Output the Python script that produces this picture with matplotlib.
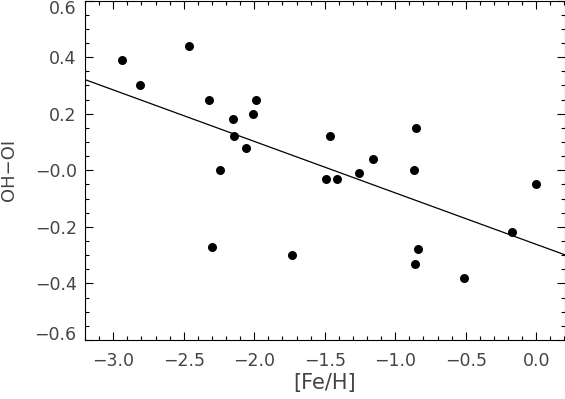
import matplotlib
matplotlib.use("Agg")
import matplotlib.pyplot as plt
import numpy as np
from matplotlib.ticker import MultipleLocator

# Data
fe_h = [-2.94, -2.81, -2.46, -2.32, -2.15, -2.14, -2.06, -2.01, -1.99, -2.245,
        -2.30, -1.73, -1.46, -1.49, -1.41, -1.26, -1.16, -0.85, -0.87, -0.84,
        -0.86, -0.51, -0.17, 0.0]
oh_oi = [0.39, 0.30, 0.44, 0.25, 0.18, 0.12, 0.08, 0.20, 0.25, 0.00,
         -0.27, -0.30, 0.12, -0.03, -0.03, -0.01, 0.04, 0.15, 0.00, -0.28,
         -0.33, -0.38, -0.22, -0.05]

# linear fit line (slope, intercept)
fit_slope = -0.182
fit_intercept = -0.262

xticks = [-3.0, -2.5, -2.0, -1.5, -1.0, -0.5, 0.0]
xticklabels = ["\u22123.0", "\u22122.5", "\u22122.0", "\u22121.5", "\u22121.0", "\u22120.5", "0.0"]
yticks = [0.6, 0.4, 0.2, 0.0, -0.2, -0.4, -0.6]
yticklabels = ["0.6", "0.4", "0.2", "\u22120.0", "\u22120.2", "\u22120.4", "\u22120.6"]

plt.rcParams["font.family"] = ["DejaVu Sans"]
text_color = "#444444"

fig = plt.figure(figsize=(5.65, 3.99), dpi=100)
ax = fig.add_axes([85 / 565, 59 / 399, 479.5 / 565, 339.5 / 399])

ax.scatter(fe_h, oh_oi, s=42, color="black", zorder=3, linewidths=0)

xl = np.array([-3.2, 0.2])
ax.plot(xl, fit_slope * xl + fit_intercept, color="black", lw=0.9)

ax.set_xlim(-3.2, 0.2)
ax.set_ylim(-0.6, 0.6)

ax.set_xticks(xticks)
ax.set_xticklabels(xticklabels)
ax.set_yticks(yticks)
ax.set_yticklabels(yticklabels)
ax.xaxis.set_minor_locator(MultipleLocator(0.1))
ax.yaxis.set_minor_locator(MultipleLocator(0.05))

ax.tick_params(which="both", direction="in", top=True, right=True,
               width=0.8, color="black", labelcolor=text_color, labelsize=12.5)
ax.tick_params(which="major", length=5.5)
ax.tick_params(which="minor", length=3)
ax.tick_params(axis="x", pad=9)
ax.tick_params(axis="y", pad=6)

# keep the extreme y labels inside the figure
ylabs = ax.get_yticklabels()
ylabs[0].set_va("top")
ylabs[-1].set_va("baseline")

for sp in ax.spines.values():
    sp.set_linewidth(0.8)

ax.set_xlabel("[Fe/H]", fontsize=15, color=text_color, labelpad=2)
ax.set_ylabel("OH\u2212OI", fontsize=13, color=text_color, labelpad=12)

fig.savefig("out.png", dpi=100)
